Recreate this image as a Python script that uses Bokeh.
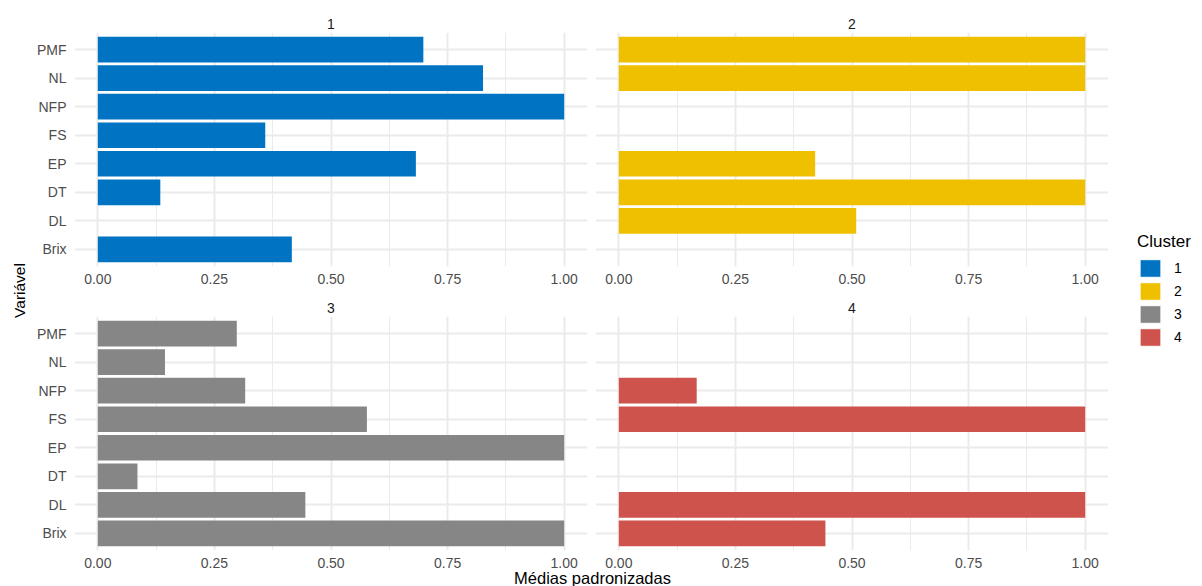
import math
from bokeh.plotting import figure
from bokeh.models import (FactorRange, Range1d, FixedTicker, Label, Legend, LegendItem,
                          ColumnDataSource, NumeralTickFormatter)
from bokeh.layouts import row, column
from bokeh.embed import file_html
from bokeh.resources import INLINE

# ---- data ----
variables = ["Brix", "DL", "DT", "EP", "FS", "NFP", "NL", "PMF"]
clusters = ["1", "2", "3", "4"]
colors = ["#0073C2", "#EFC000", "#868686", "#CD534C"]
cluster1 = [0.416, 0.0, 0.134, 0.682, 0.359, 1.0, 0.826, 0.698]
cluster2 = [0.0, 0.509, 1.0, 0.421, 0.0, 0.0, 1.0, 1.0]
cluster3 = [1.0, 0.445, 0.085, 1.0, 0.577, 0.316, 0.144, 0.298]
cluster4 = [0.443, 1.0, 0.0, 0.0, 1.0, 0.167, 0.0, 0.0]
x_ticks = [0.0, 0.25, 0.5, 0.75, 1.0]
x_title = "Médias padronizadas"
y_title = "Variável"
legend_title = "Cluster"

FONT = "Liberation Sans"
TICK_COLOR = "#4D4D4D"
GRID = "#EBEBEB"
minor = [(a + b) / 2 for a, b in zip(x_ticks[:-1], x_ticks[1:])]


def make_panel(name, values, color, show_y, top, bottom, left, right):
    p = figure(y_range=FactorRange(factors=variables, range_padding=0.1,
                                   range_padding_units="absolute"),
               x_range=Range1d(-0.05, 1.05),
               frame_width=513, frame_height=234,
               min_border_top=top, min_border_bottom=bottom,
               min_border_left=left, min_border_right=right,
               output_backend="svg", toolbar_location=None)
    p.title.text = name
    p.title.align = "center"
    p.title.text_font = FONT
    p.title.text_font_size = "14px"
    p.title.text_font_style = "normal"
    p.title.text_color = "#1A1A1A"
    p.title.standoff = 7
    p.outline_line_color = None
    p.background_fill_color = "white"
    p.border_fill_color = "white"

    src = ColumnDataSource(dict(
        var=[v for v, x in zip(variables, values) if x > 0],
        val=[x for x in values if x > 0]))
    p.hbar(y="var", left=0, right="val", height=0.9, source=src,
           fill_color=color, line_color=None)

    xa = p.xaxis[0]
    xa.ticker = FixedTicker(ticks=x_ticks)
    xa.formatter = NumeralTickFormatter(format="0.00")
    xa.axis_line_color = None
    xa.major_tick_line_color = None
    xa.minor_tick_line_color = None
    xa.major_tick_out = 0
    xa.major_tick_in = 0
    xa.minor_tick_out = 0
    xa.major_label_standoff = 7
    xa.major_label_text_font = FONT
    xa.major_label_text_font_size = "14px"
    xa.major_label_text_color = TICK_COLOR

    ya = p.yaxis[0]
    ya.axis_line_color = None
    ya.major_tick_line_color = None
    ya.major_tick_out = 0
    ya.major_tick_in = 0
    ya.major_label_standoff = 8
    ya.major_label_text_font = FONT
    ya.major_label_text_font_size = "14px"
    ya.major_label_text_color = TICK_COLOR
    ya.visible = show_y

    p.xgrid.ticker = FixedTicker(ticks=x_ticks, minor_ticks=minor)
    p.xgrid.grid_line_color = GRID
    p.xgrid.grid_line_width = 2
    p.xgrid.minor_grid_line_color = GRID
    p.xgrid.minor_grid_line_width = 1
    p.ygrid.grid_line_color = GRID
    p.ygrid.grid_line_width = 2
    return p


p1 = make_panel(clusters[0], cluster1, colors[0], True, 32, 24, 44, 4)
p2 = make_panel(clusters[1], cluster2, colors[1], False, 32, 24, 4, 2)
p3 = make_panel(clusters[2], cluster3, colors[2], True, 26, 18, 44, 4)
p4 = make_panel(clusters[3], cluster4, colors[3], False, 26, 18, 4, 2)


def blank(w, h):
    f = figure(width=w, height=h, x_range=Range1d(0, w), y_range=Range1d(0, h),
               min_border=0, output_backend="svg", toolbar_location=None,
               x_axis_location=None, y_axis_location=None, title=None)
    f.xgrid.visible = False
    f.ygrid.visible = False
    f.outline_line_color = None
    f.background_fill_color = "white"
    f.border_fill_color = "white"
    return f


ylab = blank(30, 586)
ylab.add_layout(Label(x=19, y=296, text=y_title, angle=math.pi / 2,
                      text_align="center", text_baseline="middle",
                      text_font=FONT, text_font_size="15.5px", text_color="black"))

xlab = blank(1080, 18)
xlab.add_layout(Label(x=562, y=0, y_offset=1.5, text=x_title, text_align="center",
                      text_baseline="bottom", text_font=FONT,
                      text_font_size="16.5px", text_color="black"))

leg = blank(92, 586)
items = []
for c, col in zip(clusters, colors):
    r = leg.hbar(y=[0], right=[0], left=0, height=0, fill_color=col,
                 line_color="white", line_width=1)
    items.append(LegendItem(label=c, renderers=[r]))
legend = Legend(items=items, title=legend_title, location=(27, 238),
                padding=0, margin=0, spacing=1, glyph_width=26, glyph_height=22,
                label_standoff=11, label_height=20,
                border_line_color=None, background_fill_alpha=0,
                title_text_font=FONT, title_text_font_size="17px",
                title_text_font_style="normal", title_text_color="black",
                title_standoff=5,
                label_text_font=FONT, label_text_font_size="14px",
                label_text_color="black")
leg.add_layout(legend, "center")

layout = row(ylab, column(row(p1, p2), row(p3, p4), xlab), leg)

open("out.html", "w").write(file_html(layout, INLINE))
